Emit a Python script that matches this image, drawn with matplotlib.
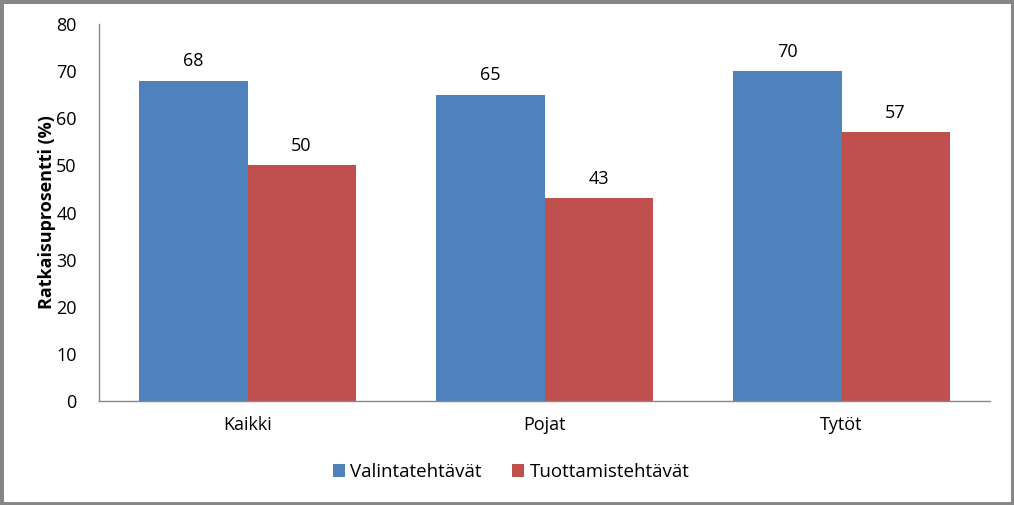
import matplotlib
matplotlib.use("Agg")
import matplotlib.pyplot as plt
import numpy as np

categories = ["Kaikki", "Pojat", "Tytöt"]
series_names = ["Valintatehtävät", "Tuottamistehtävät"]
valinta = [68, 65, 70]
tuottamis = [50, 43, 57]
colors = ["#4F81BD", "#C0504D"]

plt.rcParams['font.family'] = ['Open Sans', 'DejaVu Sans']

fig = plt.figure(figsize=(10.14, 5.05), dpi=100)
ax = fig.add_axes([99/1014, 1 - 401/505, (990-99)/1014, (401-24)/505])

x = np.arange(len(categories))
w = 0.364
b1 = ax.bar(x - w/2, valinta, w, color=colors[0], label=series_names[0])
b2 = ax.bar(x + w/2, tuottamis, w, color=colors[1], label=series_names[1])
for bars, vals in ((b1, valinta), (b2, tuottamis)):
    for r, v in zip(bars, vals):
        ax.text(r.get_x() + r.get_width()/2, v + 2.2, str(v), ha='center', va='bottom', fontsize=13)

ax.set_xlim(-0.5, 2.5)
ax.set_ylim(0, 80)
ax.set_yticks(range(0, 81, 10))
ax.set_xticks(x)
ax.set_xticklabels(categories)
ax.tick_params(axis='both', length=0, labelsize=13)
ax.tick_params(axis='y', pad=16)
ax.tick_params(axis='x', pad=11)
for s in ['top', 'right']:
    ax.spines[s].set_visible(False)
for s in ['left', 'bottom']:
    ax.spines[s].set_color('#888888')
    ax.spines[s].set_linewidth(1)
ax.set_ylabel("Ratkaisuprosentti (%)", fontsize=13, fontweight='bold', labelpad=0)

fig.legend(handles=[b1, b2], labels=series_names, loc='center', bbox_to_anchor=(511/1014, 1 - 472/505),
           ncol=2, frameon=False, fontsize=13.5, handlelength=0.65, handleheight=0.65,
           handletextpad=0.3, columnspacing=1.6)

fig.patches.append(plt.Rectangle((0, 0), 1, 1, transform=fig.transFigure, fill=False,
                                 edgecolor='#868686', linewidth=5, zorder=10))
fig.savefig("out.png", dpi=100)
